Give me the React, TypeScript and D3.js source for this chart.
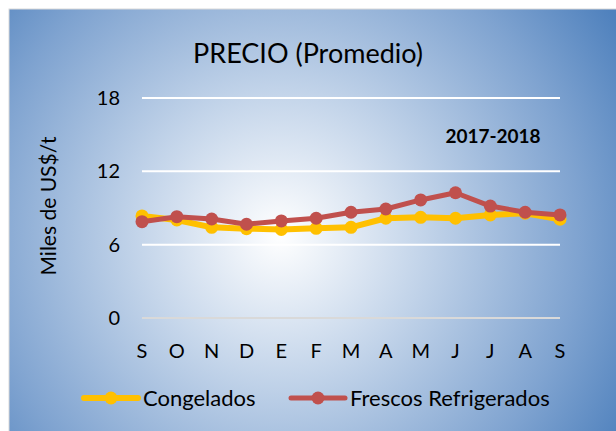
import * as d3 from "d3";
import React from "react";

const width = 616;
const height = 431;
const margin = { top: 98, right: 56, bottom: 113, left: 142 };

const months = ["S", "O", "N", "D", "E", "F", "M", "A", "M", "J", "J", "A", "S"];
const congelados = [8.35, 8.02, 7.42, 7.31, 7.25, 7.34, 7.42, 8.16, 8.24, 8.16, 8.43, 8.57, 8.08];
const frescos = [7.88, 8.29, 8.1, 7.67, 7.94, 8.16, 8.65, 8.92, 9.66, 10.25, 9.16, 8.65, 8.43];
const yTicks = [0, 6, 12, 18];

const font = "Lato, 'Open Sans', sans-serif";

const App = () => {
  const xScale = d3
    .scalePoint<number>()
    .domain(d3.range(months.length))
    .range([margin.left, width - margin.right]);

  const yScale = d3
    .scaleLinear()
    .domain([0, 18])
    .range([height - margin.bottom, margin.top]);

  const line = d3
    .line<number>()
    .x((d, i) => xScale(i) as number)
    .y((d) => yScale(d));

  const series = [
    { name: "Congelados", values: congelados, color: "#FFC000", width: 6, r: 6.5 },
    { name: "Frescos Refrigerados", values: frescos, color: "#C0504D", width: 5, r: 6.5 },
  ];

  return (
    <svg
      width={width}
      height={height}
      style={{ position: "absolute", left: 0, top: 0 }}
    >
      <defs>
        <radialGradient
          id="bg"
          gradientUnits="userSpaceOnUse"
          cx={280}
          cy={235}
          r={400}
        >
          <stop offset="0" stopColor="#ffffff" />
          <stop offset="0.35" stopColor="#c4d5ea" />
          <stop offset="0.75" stopColor="#7fa3d0" />
          <stop offset="1" stopColor="#4f81bd" />
        </radialGradient>
      </defs>
      <rect x={0} y={0} width={width} height={height} fill="#ffffff" />
      <rect x={8.5} y={8.5} width={width} height={height} fill="#d9d9d9" />
      <rect x={9.5} y={9.5} width={width} height={height} fill="url(#bg)" />

      <text
        x={308}
        y={63}
        textAnchor="middle"
        fontFamily={font}
        fontSize={27}
        fill="#000"
      >
        PRECIO (Promedio)
      </text>

      {yTicks.map((t) => (
        <g key={t}>
          <line
            x1={margin.left}
            x2={width - margin.right}
            y1={yScale(t)}
            y2={yScale(t)}
            stroke={t === 0 ? "#d9d9d9" : "#ffffff"}
            strokeWidth={2}
          />
          <text
            x={120}
            y={yScale(t)}
            dy="0.35em"
            textAnchor="end"
            fontFamily={font}
            fontSize={20}
            fill="#000"
          >
            {t}
          </text>
        </g>
      ))}

      {months.map((m, i) => (
        <text
          key={i}
          x={xScale(i)}
          y={358}
          textAnchor="middle"
          fontFamily={font}
          fontSize={20}
          fill="#000"
        >
          {m}
        </text>
      ))}

      <text
        transform={`translate(56, 206) rotate(-90)`}
        textAnchor="middle"
        fontFamily={font}
        fontSize={21}
        fill="#000"
      >
        Miles de US$/t
      </text>

      <text
        x={493}
        y={143}
        textAnchor="middle"
        fontFamily={font}
        fontSize={19}
        fontWeight="bold"
        fill="#000"
      >
        2017-2018
      </text>

      {series.map((s) => (
        <g key={s.name}>
          <path
            d={line(s.values) as string}
            fill="none"
            stroke={s.color}
            strokeWidth={s.width}
            strokeLinejoin="round"
          />
          {s.values.map((v, i) => (
            <circle key={i} cx={xScale(i)} cy={yScale(v)} r={s.r} fill={s.color} />
          ))}
        </g>
      ))}

      {/* legend */}
      {[
        { s: series[0], x: 84, tx: 143 },
        { s: series[1], x: 291, tx: 350 },
      ].map(({ s, x, tx }) => (
        <g key={s.name}>
          <line
            x1={x}
            x2={x + 54}
            y1={398}
            y2={398}
            stroke={s.color}
            strokeWidth={s.width}
            strokeLinecap="round"
          />
          <circle cx={x + 27} cy={398} r={s.r} fill={s.color} />
          <text
            x={tx}
            y={398}
            dy="0.35em"
            fontFamily={font}
            fontSize={22}
            fill="#000"
          >
            {s.name}
          </text>
        </g>
      ))}
    </svg>
  );
};

export default App;
